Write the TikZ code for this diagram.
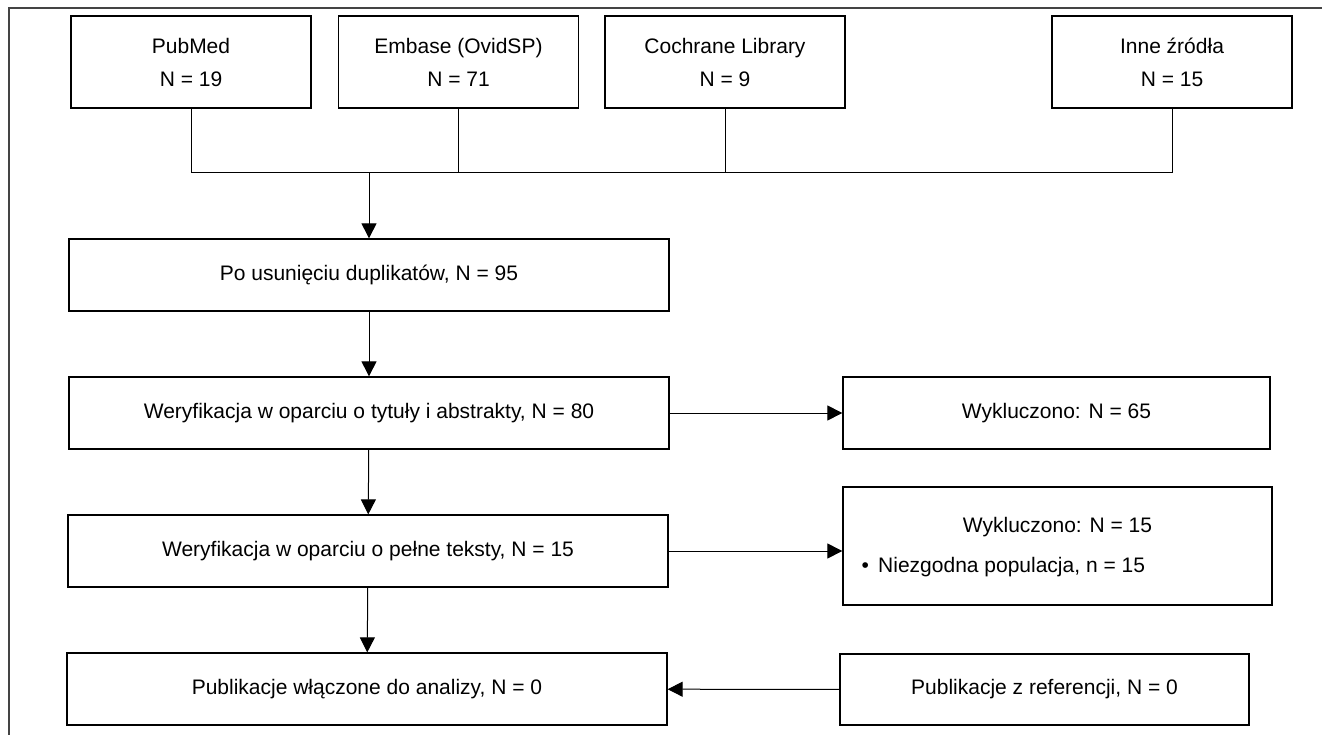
\documentclass[tikz,border=0pt]{standalone}
\usepackage{fontspec}
\setmainfont{Liberation Sans}
\usepackage{tikz}
\usetikzlibrary{positioning, arrows.meta}
\definecolor{framegray}{HTML}{444444}
\tikzstyle{source} = [rectangle, minimum width=240pt, minimum height=92pt, text centered, draw=black, line width=1.3pt, align=center, font=\fontsize{21}{33}\selectfont]
\tikzstyle{stage} = [rectangle, minimum width=600pt, minimum height=72pt, text centered, draw=black, line width=1.3pt, font=\fontsize{21}{25}\selectfont]
\tikzstyle{excl} = [rectangle, minimum height=72pt, text centered, draw=black, line width=1.3pt, font=\fontsize{21}{25}\selectfont]
\tikzstyle{plain} = [font=\fontsize{21}{25}\selectfont, inner sep=0pt]
\tikzstyle{link} = [line width=1pt]
\tikzstyle{arrow} = [line width=1pt, -{Triangle[length=15pt, width=15pt]}]

\begin{document}
\begin{tikzpicture}[x=1pt, y=-1pt]
    \useasboundingbox (0,0) rectangle (1322,735);
    \coordinate (frametop) at (9,8);
    \coordinate (frameend) at (1322,8);
    \coordinate (framebot) at (9,735);
    \draw [framegray, line width=1.3pt] (frameend) -- (frametop) -- (framebot);

    % sources
    \node (pubmed) [source] at (191,62) {PubMed\\N = 19};
    \node (embase) [source] at (458.5,62) {Embase (OvidSP)\\N = 71};
    \node (cochrane) [source] at (725,62) {Cochrane Library\\N = 9};
    \node (inne) [source] at (1172,62) {Inne źródła\\N = 15};
    \coordinate (join) at (369,173);

    \draw [link] (pubmed.south) |- (inne.south |- join) -- (inne.south);
    \draw [link] (embase.south) -- (embase.south |- join);
    \draw [link] (cochrane.south) -- (cochrane.south |- join);

    % main column
    \node (dedup) [stage] at (369,275) {Po usunięciu duplikatów, N = 95};
    \node (screen) [stage] at (369,413) {Weryfikacja w oparciu o tytuły i abstrakty, N = 80};
    \node (fulltext) [stage] at (368,551) {Weryfikacja w oparciu o pełne teksty, N = 15};
    \node (included) [stage] at (367,689) {Publikacje włączone do analizy, N = 0};

    \draw [arrow] (join) -- (dedup);
    \draw [arrow] (dedup) -- (screen);
    \draw [arrow] (screen) -- (fulltext);
    \draw [arrow] (fulltext) -- (included);

    % exclusions
    \node (excl1) [excl, minimum width=427pt] at (1056.5,413) {Wykluczono: N = 65};
    \node (excl2) [excl, minimum width=429pt, minimum height=118pt] at (1057.5,546) {};
    \node (excl2head) [plain] at ([yshift=19pt]excl2.center) {Wykluczono: N = 15};
    \node (excl2item) [plain, anchor=west] at ([xshift=19pt, yshift=-21pt]excl2.west) {•\, Niezgodna populacja, n = 15};
    \node (refs) [excl, minimum width=409pt, minimum height=71pt] at (1044.5,689.5) {Publikacje z referencji, N = 0};

    \draw [arrow] (screen) -- (excl1);
    \draw [arrow] (fulltext.east) -- (fulltext.east -| excl2.west);
    \draw [arrow] (refs) -- (included);
\end{tikzpicture}
\end{document}
